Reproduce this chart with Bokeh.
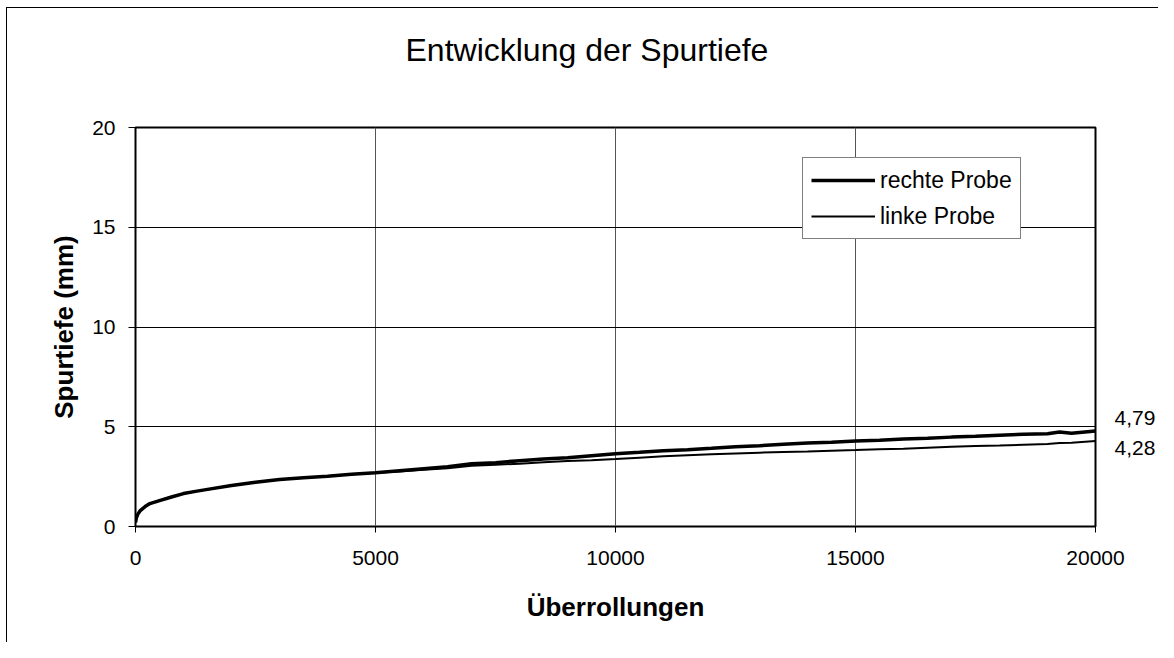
from bokeh.plotting import figure
from bokeh.models import FixedTicker, Legend, LegendItem, Range1d, LinearAxis
from bokeh.embed import file_html
from bokeh.resources import INLINE

title_text = "Entwicklung der Spurtiefe"
x_label = "Überrollungen"
y_label = "Spurtiefe (mm)"
series_names = ["rechte Probe", "linke Probe"]
x_ticks = [0, 5000, 10000, 15000, 20000]
y_ticks = [0, 5, 10, 15, 20]

ueberrollungen = [0, 20, 50, 100, 200, 300, 500, 750, 1000, 1250, 1500, 2000, 2500,
                  3000, 3500, 4000, 4500, 5000, 5500, 6000, 6500, 7000, 7500, 8000,
                  8500, 9000, 9500, 10000, 10500, 11000, 11500, 12000, 12500, 13000,
                  13500, 14000, 14500, 15000, 15500, 16000, 16500, 17000, 17500,
                  18000, 18500, 19000, 19250, 19500, 20000]
rechte = [0.2, 0.45, 0.62, 0.8, 1.0, 1.15, 1.3, 1.48, 1.65, 1.76, 1.86, 2.05, 2.22,
          2.36, 2.44, 2.52, 2.62, 2.7, 2.8, 2.9, 3.0, 3.14, 3.2, 3.3, 3.38, 3.45,
          3.55, 3.65, 3.72, 3.8, 3.85, 3.92, 4.0, 4.05, 4.12, 4.18, 4.22, 4.28, 4.32,
          4.38, 4.42, 4.48, 4.52, 4.58, 4.62, 4.65, 4.74, 4.68, 4.79]
linke = [0.2, 0.45, 0.62, 0.8, 1.0, 1.15, 1.3, 1.48, 1.65, 1.76, 1.86, 2.05, 2.22,
         2.36, 2.44, 2.52, 2.62, 2.7, 2.76, 2.84, 2.92, 3.04, 3.1, 3.15, 3.22, 3.28,
         3.32, 3.38, 3.45, 3.52, 3.57, 3.62, 3.66, 3.7, 3.74, 3.76, 3.8, 3.83, 3.87,
         3.9, 3.95, 4.0, 4.03, 4.06, 4.1, 4.14, 4.18, 4.2, 4.28]
end_labels = ["4,79", "4,28"]
end_values = [4.79, 4.28]

FONT = "Liberation Sans"
W, H = 1158, 642
LEFT, TOP, RIGHT, BOTTOM = 135, 127, 1096, 526   # frame edges in px
px_per_unit = (BOTTOM - TOP) / (y_ticks[-1] - y_ticks[0])

p = figure(width=W, height=H, output_backend="svg", toolbar_location=None,
           x_range=Range1d(x_ticks[0], x_ticks[-1]), y_range=Range1d(y_ticks[0], y_ticks[-1]),
           min_border_left=LEFT, min_border_right=W - RIGHT, min_border_top=TOP,
           min_border_bottom=H - BOTTOM)
p.border_fill_alpha = 0
p.styles = {
    "background": ("linear-gradient(#000,#000) 6px 7px / 1px calc(100% - 7px) no-repeat, "
                   "linear-gradient(#000,#000) 6px 7px / calc(100% - 6px) 1px no-repeat, #fff")
}
p.background_fill_color = "white"
p.outline_line_color = "black"
p.outline_line_width = 2

xax = p.below[0]
yax = p.left[0]

for ax in (xax, yax):
    ax.axis_line_color = "black"
    ax.axis_line_width = 1
    ax.major_tick_line_color = "black"
    ax.major_tick_in = 0
    ax.minor_tick_line_color = None
    ax.major_label_text_font = FONT
    ax.major_label_text_font_size = "21px"
    ax.major_label_text_color = "black"
    ax.axis_label_text_font = FONT
    ax.axis_label_text_font_size = "26px"
    ax.axis_label_text_font_style = "bold"
    ax.axis_label_text_color = "black"

xax.ticker = FixedTicker(ticks=x_ticks)
yax.ticker = FixedTicker(ticks=y_ticks)
xax.major_tick_out = 6
yax.major_tick_out = 7
xax.major_label_standoff = 18
yax.major_label_standoff = 13
xax.axis_label = x_label
yax.axis_label = y_label
xax.axis_label_standoff = 24
yax.axis_label_standoff = 10

p.xgrid.ticker = FixedTicker(ticks=x_ticks)
p.ygrid.ticker = FixedTicker(ticks=y_ticks)
p.xgrid.grid_line_color = "#555555"
p.xgrid.grid_line_width = 1
p.ygrid.grid_line_color = "black"
p.ygrid.grid_line_width = 1

# invisible spacer axis between frame and title (one hidden tick, empty label)
spacer = LinearAxis(ticker=FixedTicker(ticks=[x_ticks[0]]),
                    major_label_overrides={x_ticks[0]: ""})
spacer.axis_line_color = None
spacer.major_tick_line_color = None
spacer.minor_tick_line_color = None
spacer.major_tick_in = 0
spacer.major_tick_out = 60
spacer.minor_tick_out = 0
spacer.major_label_standoff = 0
spacer.major_label_text_font_size = "1px"
spacer.major_label_text_color = None
p.add_layout(spacer, "above")

p.title.text = title_text
p.title.align = "left"
p.title.offset = 270
p.title.standoff = 0
p.title.text_font = FONT
p.title.text_font_size = "32px"
p.title.text_font_style = "normal"
p.title.text_color = "black"

r1 = p.line(ueberrollungen, rechte, line_color="black", line_width=3.5)
r2 = p.line(ueberrollungen, linke, line_color="black", line_width=2)

# end-value labels to the right of the plot (shifted apart by a few pixels)
label_shift_px = [13, -7]
end_pos = [round(v + s / px_per_unit, 3) for v, s in zip(end_values, label_shift_px)]
ends_axis = LinearAxis(ticker=FixedTicker(ticks=end_pos),
                       major_label_overrides={pos: txt for pos, txt in zip(end_pos, end_labels)})
ends_axis.axis_line_color = None
ends_axis.major_tick_line_color = None
ends_axis.minor_tick_line_color = None
ends_axis.major_tick_out = 0
ends_axis.major_tick_in = 0
ends_axis.major_label_standoff = 19
ends_axis.major_label_text_font = FONT
ends_axis.major_label_text_font_size = "21px"
ends_axis.major_label_text_color = "black"
p.add_layout(ends_axis, "right")

legend = Legend(items=[LegendItem(label=series_names[0], renderers=[r1]),
                       LegendItem(label=series_names[1], renderers=[r2])],
                location=(667, 287))
legend.border_line_color = "black"
legend.border_line_width = 1
legend.background_fill_color = "white"
legend.background_fill_alpha = 1
legend.label_text_font = FONT
legend.label_text_font_size = "23px"
legend.label_text_color = "black"
legend.glyph_width = 64
legend.glyph_height = 28
legend.label_height = 28
legend.label_standoff = 5
legend.spacing = 8
legend.padding = 8
legend.margin = 0
p.add_layout(legend, "center")

open("out.html", "w").write(file_html(p, INLINE))
